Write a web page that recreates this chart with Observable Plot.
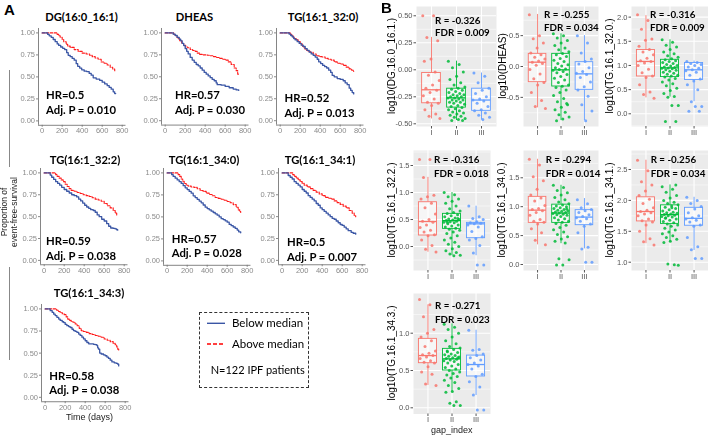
<!DOCTYPE html>
<html><head><meta charset="utf-8">
<script src="https://cdn.jsdelivr.net/npm/d3@7"></script>
<script src="https://cdn.jsdelivr.net/npm/@observablehq/plot@0.6"></script>
<style>
body{margin:0;background:#fff;}
#root{position:relative;width:708px;height:436px;overflow:hidden;font-family:Lato,"Liberation Sans",sans-serif;}
.tx{position:absolute;white-space:nowrap;line-height:1.15;}
svg{position:absolute;will-change:transform;}
</style></head><body><div id="root"></div>
<script>
// ---------- Kaplan-Meier curves: [days, survival] ----------
const km_DG_below = [[0,1],[40,1],[55,0.983],[70,0.967],[90,0.95],[110,0.925],[130,0.9],[150,0.875],[165,0.858],[185,0.84],[205,0.825],[225,0.81],[245,0.775],[260,0.745],[280,0.73],[300,0.71],[320,0.69],[340,0.65],[355,0.62],[375,0.6],[395,0.58],[420,0.565],[445,0.56],[470,0.54],[490,0.52],[510,0.49],[540,0.475],[575,0.46],[600,0.44],[625,0.42],[650,0.40],[670,0.38],[690,0.36],[710,0.33],[725,0.31],[735,0.31]];
const km_DG_above = [[0,1],[140,1],[150,0.983],[165,0.967],[180,0.95],[200,0.925],[215,0.9],[240,0.87],[255,0.85],[280,0.835],[320,0.81],[360,0.79],[400,0.77],[440,0.76],[475,0.745],[500,0.73],[530,0.715],[560,0.70],[590,0.67],[620,0.655],[650,0.635],[680,0.61],[705,0.59],[725,0.57],[735,0.57]];
const km_DHEAS_below = [[0,1],[60,1],[80,0.985],[100,0.97],[120,0.95],[140,0.93],[155,0.91],[170,0.88],[185,0.855],[200,0.82],[215,0.79],[230,0.76],[250,0.72],[270,0.69],[290,0.665],[310,0.64],[330,0.625],[350,0.60],[370,0.575],[390,0.55],[410,0.53],[430,0.51],[450,0.49],[470,0.47],[490,0.455],[510,0.43],[520,0.41],[560,0.405],[600,0.39],[640,0.375],[680,0.36],[710,0.35],[735,0.345]];
const km_DHEAS_above = [[0,1],[70,1],[85,0.985],[100,0.97],[115,0.95],[130,0.93],[145,0.91],[165,0.88],[185,0.86],[205,0.84],[225,0.83],[250,0.81],[275,0.8],[300,0.79],[320,0.77],[345,0.755],[380,0.75],[420,0.745],[450,0.74],[480,0.73],[510,0.72],[540,0.71],[570,0.70],[600,0.69],[630,0.67],[660,0.64],[690,0.60],[710,0.57],[725,0.53],[735,0.52]];
const km_TG320_below = [[0,1],[70,1],[90,0.985],[105,0.97],[120,0.955],[135,0.935],[150,0.92],[170,0.9],[190,0.88],[210,0.86],[230,0.845],[250,0.82],[270,0.80],[290,0.78],[310,0.76],[330,0.745],[350,0.725],[370,0.70],[385,0.67],[405,0.65],[425,0.63],[445,0.615],[465,0.60],[485,0.575],[505,0.55],[520,0.515],[540,0.50],[570,0.48],[600,0.47],[630,0.455],[650,0.43],[670,0.41],[690,0.37],[705,0.345],[720,0.32],[735,0.305]];
const km_TG320_above = [[0,1],[85,1],[100,0.985],[115,0.97],[130,0.95],[145,0.935],[160,0.92],[180,0.90],[200,0.875],[220,0.845],[240,0.82],[260,0.80],[280,0.79],[300,0.78],[330,0.76],[360,0.74],[390,0.73],[420,0.725],[450,0.71],[480,0.70],[510,0.69],[540,0.67],[570,0.655],[600,0.645],[630,0.63],[660,0.61],[690,0.59],[715,0.575],[735,0.56]];
const km_TG322_below = [[0,1],[45,1],[60,0.975],[75,0.95],[95,0.925],[115,0.9],[135,0.88],[155,0.86],[175,0.835],[200,0.81],[225,0.79],[250,0.77],[275,0.75],[300,0.74],[325,0.725],[345,0.70],[365,0.68],[385,0.655],[405,0.63],[425,0.61],[445,0.595],[465,0.58],[490,0.57],[510,0.55],[530,0.52],[550,0.50],[575,0.47],[600,0.45],[625,0.42],[645,0.39],[665,0.37],[690,0.365],[710,0.36],[725,0.35],[735,0.345]];
const km_TG322_above = [[0,1],[100,1],[115,0.98],[130,0.96],[150,0.94],[170,0.92],[190,0.90],[210,0.87],[230,0.845],[250,0.82],[270,0.80],[300,0.79],[330,0.775],[360,0.765],[390,0.75],[420,0.74],[450,0.73],[480,0.715],[510,0.70],[540,0.69],[570,0.675],[600,0.65],[630,0.625],[660,0.60],[690,0.57],[710,0.54],[725,0.52],[735,0.515]];
const km_TG340_below = [[0,1],[30,1],[45,0.98],[60,0.96],[80,0.94],[100,0.92],[120,0.90],[140,0.88],[160,0.855],[180,0.83],[200,0.81],[220,0.79],[240,0.77],[260,0.74],[280,0.72],[300,0.70],[320,0.68],[340,0.66],[360,0.635],[380,0.61],[400,0.595],[420,0.58],[440,0.565],[460,0.55],[480,0.535],[500,0.52],[520,0.50],[540,0.48],[560,0.47],[580,0.455],[600,0.44],[620,0.415],[640,0.40],[660,0.385],[680,0.37],[700,0.35],[715,0.33],[735,0.32]];
const km_TG340_above = [[0,1],[95,1],[110,0.98],[125,0.96],[140,0.93],[155,0.905],[170,0.88],[190,0.86],[210,0.85],[240,0.84],[270,0.835],[300,0.82],[330,0.80],[360,0.79],[390,0.77],[420,0.755],[450,0.74],[480,0.72],[510,0.71],[540,0.70],[570,0.69],[600,0.675],[630,0.66],[660,0.64],[690,0.61],[710,0.58],[725,0.56],[735,0.55]];
const km_TG341_below = [[0,1],[40,1],[60,0.97],[80,0.95],[100,0.93],[120,0.90],[140,0.88],[160,0.86],[180,0.84],[200,0.81],[220,0.79],[240,0.77],[260,0.74],[280,0.72],[300,0.70],[320,0.68],[340,0.65],[360,0.63],[380,0.60],[400,0.58],[420,0.56],[440,0.54],[460,0.52],[480,0.50],[500,0.48],[520,0.47],[540,0.45],[560,0.43],[580,0.41],[600,0.40],[620,0.38],[640,0.36],[660,0.34],[690,0.32],[710,0.31],[735,0.30]];
const km_TG341_above = [[0,1],[90,1],[105,0.98],[120,0.96],[140,0.94],[160,0.92],[180,0.90],[200,0.88],[220,0.86],[250,0.84],[280,0.82],[310,0.80],[340,0.78],[370,0.76],[400,0.74],[430,0.72],[460,0.71],[490,0.70],[520,0.68],[550,0.66],[580,0.64],[610,0.62],[640,0.60],[670,0.57],[700,0.54],[720,0.51],[735,0.50]];
const km_TG343_below = [[0,1],[35,1],[50,0.98],[70,0.96],[85,0.94],[100,0.925],[117,0.905],[135,0.885],[150,0.87],[170,0.855],[185,0.845],[200,0.825],[217,0.81],[235,0.80],[250,0.79],[268,0.77],[283,0.755],[300,0.745],[317,0.735],[335,0.715],[350,0.70],[367,0.68],[383,0.66],[400,0.64],[417,0.62],[435,0.605],[483,0.60],[500,0.595],[517,0.585],[525,0.56],[533,0.545],[545,0.50],[560,0.49],[583,0.48],[600,0.47],[617,0.455],[633,0.44],[650,0.42],[667,0.40],[690,0.39],[710,0.385],[725,0.375],[735,0.355]];
const km_TG343_above = [[0,1],[100,1],[115,0.985],[130,0.97],[150,0.96],[170,0.945],[190,0.935],[210,0.91],[225,0.885],[240,0.87],[260,0.855],[280,0.85],[300,0.83],[320,0.81],[340,0.78],[360,0.755],[380,0.745],[410,0.735],[440,0.72],[470,0.71],[500,0.70],[530,0.69],[560,0.68],[590,0.66],[620,0.645],[650,0.63],[680,0.61],[700,0.595],[715,0.57],[725,0.545],[735,0.53]];

const kmTitles = ["DG(16:0_16:1)","DHEAS","TG(16:1_32:0)","TG(16:1_32:2)","TG(16:1_34:0)","TG(16:1_34:1)","TG(16:1_34:3)"];
const kmHR = ["HR=0.5","HR=0.57","HR=0.52","HR=0.59","HR=0.57","HR=0.5","HR=0.58"];
const kmP = ["Adj. P = 0.010","Adj. P = 0.030","Adj. P = 0.013","Adj. P = 0.038","Adj. P = 0.028","Adj. P = 0.007","Adj. P = 0.038"];
const kmTicksX = [0,200,400,600,800];
const kmTicksY = [0,0.25,0.5,0.75,1];

// ---------- Box plots: [lower whisker, Q1, median, Q3, upper whisker] for I, II, III ----------
const gapGroups = ["I","II","III"];
const box_DG    = [[-0.455,-0.31,-0.185,-0.03,0.30],[-0.47,-0.35,-0.26,-0.175,0.08],[-0.465,-0.38,-0.28,-0.175,-0.03]];
const box_DHEAS = [[-0.67,-0.254,0.07,0.205,0.843],[-0.876,-0.324,-0.054,0.205,0.53],[-0.876,-0.378,-0.119,0.07,0.50]];
const box_TG320 = [[0.33,0.772,1.083,1.32,2.03],[0.345,0.759,0.95,1.117,1.53],[0.25,0.70,0.91,1.05,1.09]];
const box_TG322 = [[-0.105,0.204,0.463,0.82,1.28],[-0.17,0.327,0.48,0.605,1.0],[-0.17,0.154,0.42,0.438,0.747]];
const box_TG340 = [[0.34,0.72,0.94,1.17,1.82],[0.36,0.72,0.89,1.035,1.37],[0.27,0.68,0.82,0.94,1.14]];
const box_TG341 = [[1.30,1.66,1.82,2.05,2.65],[1.32,1.62,1.77,1.92,2.25],[1.19,1.59,1.71,1.88,2.05]];
const box_TG343 = [[0.30,0.598,0.70,0.924,1.38],[0.21,0.50,0.656,0.79,1.125],[0.165,0.42,0.58,0.70,1.04]];

// ---------- Individual points (log10 values) per group I, II, III ----------
const pts_DG = [
 [0.50,0.50,0.30,0.27,0.10,0.08,-0.02,-0.05,-0.10,-0.14,-0.17,-0.19,-0.21,-0.24,-0.27,-0.30,-0.31,-0.33,-0.37,-0.41,-0.43,-0.45],
 [0.08,0.05,0.02,-0.02,-0.06,-0.09,-0.12,-0.14,-0.16,-0.17,-0.18,-0.19,-0.20,-0.21,-0.22,-0.23,-0.23,-0.24,-0.25,-0.25,-0.26,-0.26,-0.27,-0.28,-0.28,-0.29,-0.30,-0.30,-0.31,-0.32,-0.33,-0.34,-0.35,-0.36,-0.37,-0.38,-0.39,-0.40,-0.41,-0.42,-0.43,-0.44,-0.45,-0.46,-0.47,-0.47],
 [-0.03,-0.06,-0.12,-0.17,-0.19,-0.22,-0.25,-0.27,-0.28,-0.29,-0.31,-0.34,-0.37,-0.38,-0.40,-0.42,-0.44,-0.46]];
const pts_DHEAS = [
 [0.84,0.50,0.45,0.38,0.30,0.22,0.19,0.15,0.12,0.09,0.07,0.05,0.02,-0.05,-0.12,-0.20,-0.26,-0.30,-0.42,-0.55,-0.65,-0.68],
 [0.53,0.50,0.46,0.42,0.38,0.34,0.30,0.27,0.24,0.21,0.19,0.16,0.13,0.10,0.08,0.05,0.03,0.01,-0.02,-0.04,-0.05,-0.06,-0.08,-0.10,-0.13,-0.16,-0.19,-0.22,-0.26,-0.30,-0.32,-0.34,-0.38,-0.42,-0.47,-0.52,-0.57,-0.62,-0.66,-0.70,-0.74,-0.78,-0.82,-0.85,-0.88,-0.60],
 [0.50,0.38,0.22,0.12,0.08,0.04,-0.02,-0.08,-0.11,-0.13,-0.18,-0.25,-0.33,-0.38,-0.48,-0.62,-0.72,-0.88]];
const pts_TG320 = [
 [2.05,1.93,1.75,1.55,1.52,1.40,1.33,1.28,1.22,1.15,1.10,1.08,1.05,1.00,0.92,0.85,0.78,0.75,0.60,0.45,0.40,0.32],
 [1.53,1.48,1.42,1.38,1.33,1.28,1.24,1.20,1.17,1.14,1.12,1.10,1.08,1.06,1.04,1.02,1.00,0.99,0.97,0.96,0.95,0.94,0.93,0.91,0.90,0.88,0.86,0.84,0.82,0.80,0.78,0.76,0.73,0.70,0.66,0.62,0.58,0.53,0.48,0.42,0.36,0.34,0.17,0.17,-0.16,-0.16],
 [1.08,1.06,1.04,1.02,1.00,0.97,0.94,0.91,0.89,0.86,0.80,0.72,0.68,0.60,0.50,0.25,0.15,0.15,0.05,0.05]];
const pts_TG322 = [
 [1.61,1.61,1.28,0.95,0.92,0.88,0.80,0.72,0.60,0.50,0.47,0.45,0.40,0.35,0.30,0.27,0.22,0.20,0.12,0.02,-0.05,-0.10],
 [1.00,0.96,0.92,0.88,0.84,0.80,0.75,0.70,0.66,0.63,0.61,0.59,0.57,0.55,0.53,0.51,0.50,0.49,0.48,0.47,0.46,0.45,0.44,0.42,0.40,0.38,0.36,0.34,0.32,0.30,0.27,0.24,0.20,0.16,0.12,0.08,0.04,0.00,-0.04,-0.08,-0.11,-0.14,-0.16,-0.17,0.45,0.52],
 [0.75,0.55,0.52,0.50,0.46,0.44,0.43,0.42,0.40,0.36,0.28,0.18,0.15,0.12,0.02,-0.12,-0.34,-0.34]];
const pts_TG340 = [
 [1.82,1.72,1.52,1.45,1.30,1.20,1.15,1.10,1.02,0.97,0.95,0.93,0.90,0.85,0.78,0.75,0.73,0.70,0.62,0.55,0.42,0.34],
 [1.37,1.33,1.28,1.24,1.20,1.16,1.12,1.08,1.05,1.03,1.01,1.00,0.98,0.97,0.95,0.94,0.93,0.92,0.91,0.90,0.89,0.88,0.87,0.86,0.85,0.83,0.81,0.79,0.77,0.75,0.73,0.71,0.68,0.64,0.60,0.56,0.52,0.48,0.44,0.40,0.37,0.10,0.08,-0.01,-0.01,0.96],
 [1.12,1.05,0.98,0.95,0.93,0.90,0.86,0.83,0.81,0.79,0.75,0.70,0.66,0.55,0.30,0.27,0.04,0.04]];
const pts_TG341 = [
 [2.65,2.48,2.30,2.25,2.15,2.08,2.02,1.95,1.88,1.84,1.82,1.80,1.78,1.75,1.70,1.67,1.65,1.60,1.50,1.38,1.33,1.28],
 [2.22,2.18,2.13,2.08,2.04,2.00,1.97,1.95,1.93,1.91,1.89,1.87,1.85,1.83,1.81,1.80,1.79,1.78,1.77,1.76,1.75,1.74,1.73,1.72,1.70,1.68,1.66,1.64,1.62,1.60,1.58,1.55,1.52,1.49,1.46,1.43,1.40,1.37,1.34,1.32,0.96,0.97,0.95,1.88,1.71,2.25],
 [2.05,2.00,1.95,1.90,1.86,1.80,1.75,1.72,1.70,1.68,1.65,1.60,1.58,1.40,1.25,1.20,1.06,1.06]];
const pts_TG343 = [
 [1.45,1.38,1.22,1.05,1.00,0.95,0.90,0.82,0.76,0.73,0.71,0.70,0.68,0.66,0.63,0.61,0.60,0.55,0.48,0.45,0.32,0.30],
 [1.12,1.08,1.05,1.00,0.95,0.90,0.86,0.82,0.80,0.78,0.76,0.74,0.72,0.71,0.70,0.69,0.68,0.67,0.66,0.65,0.64,0.63,0.62,0.60,0.58,0.56,0.54,0.52,0.50,0.48,0.46,0.44,0.42,0.40,0.37,0.34,0.30,0.26,0.22,0.21,0.08,0.06,0.03,0.03,0.75,0.67],
 [1.04,0.78,0.77,0.72,0.70,0.67,0.64,0.60,0.58,0.56,0.52,0.45,0.42,0.35,0.28,0.17,-0.03,-0.03]];

const boxTitles = ["log10(DG.16.0_16.1.)","log10(DHEAS)","log10(TG.16.1_32.0.)","log10(TG.16.1_32.2.)","log10(TG.16.1_34.0.)","log10(TG.16.1_34.1.)","log10(TG.16.1_34.3.)"];
const boxR = ["R = -0.326","R = -0.255","R = -0.316","R = -0.316","R = -0.294","R = -0.256","R = -0.271"];
const boxFDR = ["FDR = 0.009","FDR = 0.034","FDR = 0.009","FDR = 0.018","FDR = 0.014","FDR = 0.034","FDR = 0.023"];
const boxMajors = [[-0.5,-0.25,0,0.25,0.5],[-0.5,0,0.5],[0,0.5,1,1.5,2],[0,0.5,1,1.5],[0,0.5,1,1.5],[1,1.5,2,2.5],[0,0.5,1]];
const boxDigits = [2,1,1,1,1,1,1];

// ---------- layout ----------
const root = document.getElementById("root");
const KM_BLUE = "#3A56A5", KM_RED = "#FF1A1A";
const GROUP_COLORS = ["#F8766D","#00BA38","#619CFF"];
const SANS = "Liberation Sans, Arial, sans-serif";

function text(x, y, s, o = {}) {
  const d = document.createElement("div");
  d.className = "tx";
  d.textContent = s;
  d.style.left = x + "px"; d.style.top = y + "px";
  d.style.fontSize = (o.size || 11) + "px";
  d.style.fontWeight = o.bold ? "bold" : "normal";
  d.style.color = o.color || "#000";
  if (o.family) d.style.fontFamily = o.family;
  if (o.lh) d.style.lineHeight = o.lh;
  let tr = o.anchor === "middle" ? "translate(-50%,-50%)" : "translate(0,-50%)";
  if (o.rotate) tr = "translate(-50%,-50%) rotate(-90deg)";
  d.style.transform = tr;
  root.appendChild(d);
}
function place(svg, left, top) {
  svg.style.left = left + "px"; svg.style.top = top + "px";
  root.appendChild(svg);
}

const kmLayout = [
  {x0:42, y1:32, y0:120, tx:81.5, ty:16.7, hx:46, hy:93.7, py:109.3},
  {x0:165, y1:32.5, y0:120.3, tx:194.5, ty:16.7, hx:175, hy:93.7, py:109.3},
  {x0:280, y1:32.5, y0:120.3, tx:323, ty:16.7, hx:284.5, hy:96.7, py:111.5},
  {x0:43.5, y1:172.5, y0:260, tx:85, ty:160, hx:46, hy:240, py:255},
  {x0:166.5, y1:172, y0:260, tx:204, ty:160, hx:171.7, hy:238.3, py:252.3},
  {x0:281.5, y1:172.5, y0:260, tx:320, ty:160, hx:287, hy:241, py:256},
  {x0:45, y1:308.3, y0:396.7, tx:89, ty:293, hx:49.3, hy:375, py:389.3}
];
const kmData = [
  [km_DG_below, km_DG_above],[km_DHEAS_below, km_DHEAS_above],[km_TG320_below, km_TG320_above],
  [km_TG322_below, km_TG322_above],[km_TG340_below, km_TG340_above],[km_TG341_below, km_TG341_above],
  [km_TG343_below, km_TG343_above]
];

kmLayout.forEach((L, i) => {
  const k = 0.1, xd = [-37, 838];
  const fL = L.x0 + xd[0]*k, fR = L.x0 + xd[1]*k;
  const span = L.y0 - L.y1;
  const fT = L.y1 - 0.05*span, fB = L.y0 + 0.05*span;
  const mL = 28, mR = 6, mT = 2, mB = 12;
  const toRows = a => a.map(([t, s]) => ({t, s}));
  const svg = Plot.plot({
    width: fR - fL + mL + mR, height: fB - fT + mT + mB,
    marginLeft: mL, marginRight: mR, marginTop: mT, marginBottom: mB,
    x: {domain: xd}, y: {domain: [-0.05, 1.05]},
    style: {background: "transparent", fontFamily: SANS, overflow: "visible"},
    marks: [
      Plot.axisX({ticks: kmTicksX, tickSize: 2, tickPadding: 0.5, fontSize: 7.5, color: "#8a8a8a", label: null}),
      Plot.axisY({ticks: kmTicksY, tickFormat: d => d.toFixed(2), tickSize: 2, tickPadding: 1.5, fontSize: 7.5, color: "#8a8a8a", label: null}),
      Plot.ruleX([xd[0]], {stroke: "#777", strokeWidth: 0.9}),
      Plot.ruleY([-0.05], {stroke: "#777", strokeWidth: 0.9}),
      Plot.line(toRows(kmData[i][1]), {x: "t", y: "s", curve: "step-after", stroke: KM_RED, strokeWidth: 1.1, strokeDasharray: "2.5,1.5"}),
      Plot.line(toRows(kmData[i][0]), {x: "t", y: "s", curve: "step-after", stroke: KM_BLUE, strokeWidth: 1.3})
    ]
  });
  place(svg, fL - mL, fT - mT);
  text(L.tx, L.ty, kmTitles[i], {bold: true, size: 11.2, anchor: "middle"});
  text(L.hx, L.hy, kmHR[i], {bold: true, size: 11.3});
  text(L.hx, L.py, kmP[i], {bold: true, size: 11.3});
});

// box panels
const boxLayout = [
  {fL:416, fR:496, fT:6, fB:126, dom:[-0.525,0.586], tx:391.7, rx:435, ry:21, fy:33.3},
  {fL:523.3, fR:598.3, fT:6, fB:126, dom:[-0.972,0.972], tx:503, rx:544, ry:15, fy:28},
  {fL:631, fR:708, fT:6, fB:126, dom:[-0.263,2.22], tx:610, rx:650, ry:15, fy:28},
  {fL:413, fR:490, fT:150, fB:270, dom:[-0.444,1.778], tx:392, rx:434, ry:160, fy:174},
  {fL:523, fR:598, fT:150, fB:270, dom:[-0.104,1.972], tx:501.7, rx:545.7, ry:160, fy:174},
  {fL:631, fR:708, fT:150, fB:270, dom:[0.866,2.807], tx:610, rx:650.7, ry:160, fy:174},
  {fL:413, fR:490, fT:293, fB:413.5, dom:[-0.083,1.532], tx:392, rx:435, ry:306, fy:320}
];
const boxStats = [box_DG, box_DHEAS, box_TG320, box_TG322, box_TG340, box_TG341, box_TG343];
const boxPts = [pts_DG, pts_DHEAS, pts_TG320, pts_TG322, pts_TG340, pts_TG341, pts_TG343];
const jitter = i => (((i * 0.6180339887) % 1) - 0.5) * 0.7; // deterministic horizontal spread

boxLayout.forEach((L, i) => {
  const mL = 28, mR = 0, mT = 1, mB = 12;
  const groups = boxStats[i].map((s, g) => ({g: g + 1, lo: s[0], q1: s[1], med: s[2], q3: s[3], hi: s[4], c: GROUP_COLORS[g]}));
  const points = boxPts[i].flatMap((arr, g) => arr.map((v, j) => ({x: g + 1 + jitter(j + g * 13), v, c: GROUP_COLORS[g]})));
  const majors = boxMajors[i];
  const step = majors[1] - majors[0];
  const minors = [...majors.map(m => m - step / 2), majors[majors.length - 1] + step / 2].filter(v => v > L.dom[0] && v < L.dom[1]);
  const svg = Plot.plot({
    width: L.fR - L.fL + mL + mR, height: L.fB - L.fT + mT + mB,
    marginLeft: mL, marginRight: mR, marginTop: mT, marginBottom: mB,
    x: {domain: [0.4, 3.6]}, y: {domain: L.dom},
    style: {background: "transparent", fontFamily: SANS, overflow: "visible"},
    marks: [
      Plot.frame({fill: "#EBEBEB", stroke: null}),
      Plot.gridY(minors, {stroke: "white", strokeOpacity: 1, strokeWidth: 0.5}),
      Plot.gridY(majors, {stroke: "white", strokeOpacity: 1, strokeWidth: 1.1}),
      Plot.gridX([1, 2, 3], {stroke: "white", strokeOpacity: 1, strokeWidth: 1.1}),
      Plot.axisY({ticks: majors, tickFormat: d => d.toFixed(boxDigits[i]), tickSize: 2.5, tickPadding: 1.5, fontSize: 7.5, color: "#555", label: null}),
      Plot.axisX({ticks: [1, 2, 3], tickFormat: d => gapGroups[d - 1], tickSize: 2.5, tickPadding: 0.5, fontSize: 7.5, color: "#555", label: null}),
      Plot.ruleX(groups, {x: "g", y1: "lo", y2: "q1", stroke: "c", strokeWidth: 0.9}),
      Plot.ruleX(groups, {x: "g", y1: "q3", y2: "hi", stroke: "c", strokeWidth: 0.9}),
      Plot.rect(groups, {x1: d => d.g - 0.375, x2: d => d.g + 0.375, y1: "q1", y2: "q3", fill: "white", fillOpacity: 0.55, stroke: "c", strokeWidth: 0.9}),
      Plot.ruleY(groups, {y: "med", x1: d => d.g - 0.375, x2: d => d.g + 0.375, stroke: "c", strokeWidth: 1.3}),
      Plot.dot(points, {x: "x", y: "v", r: 1.5, fill: "c", fillOpacity: 0.85, stroke: null})
    ]
  });
  place(svg, L.fL - mL, L.fT - mT);
  text(L.tx, (L.fT + L.fB) / 2, boxTitles[i], {size: 10, rotate: true, family: SANS});
  text(L.rx, L.ry, boxR[i], {bold: true, size: 9.8});
  text(L.rx, L.fy, boxFDR[i], {bold: true, size: 9.8});
});

// panel letters & axis titles
text(4, 10, "A", {bold: true, size: 15, family: SANS});
text(381, 8, "B", {bold: true, size: 15, family: SANS});
text(89.5, 417, "Time (days)", {size: 9, anchor: "middle", family: SANS, color: "#222"});
text(451.7, 430.2, "gap_index", {size: 9, anchor: "middle", family: SANS, color: "#222", lh: 1});
text(5, 212, "Proportion of", {size: 8.5, rotate: true, family: SANS, color: "#222"});
text(14.5, 212, "event-free-survival", {size: 8.5, rotate: true, family: SANS, color: "#222"});

// left brackets
[[70, 167], [267, 360]].forEach(([a, b]) => {
  const d = document.createElement("div");
  d.style.cssText = `position:absolute;left:9px;top:${a}px;width:1.3px;height:${b - a}px;background:#888;`;
  root.appendChild(d);
});

// legend box
const lg = document.createElement("div");
lg.style.cssText = "position:absolute;left:199px;top:312px;width:108px;height:74px;border:1px dashed #333;";
root.appendChild(lg);
const ns = "http://www.w3.org/2000/svg";
const lsvg = document.createElementNS(ns, "svg");
lsvg.setAttribute("width", 30); lsvg.setAttribute("height", 40);
lsvg.style.left = "203px"; lsvg.style.top = "315px";
lsvg.innerHTML = `<line x1="4" x2="22" y1="8.3" y2="8.3" stroke="${KM_BLUE}" stroke-width="1.4"/><line x1="4" x2="22" y1="29" y2="29" stroke="#FF0000" stroke-width="1.4" stroke-dasharray="4,2"/>`;
root.appendChild(lsvg);
text(232, 323.3, "Below median", {size: 11.5});
text(232, 344, "Above median", {size: 11.5});
text(210.7, 370, "N=122 IPF patients", {size: 11});
</script></body></html>
